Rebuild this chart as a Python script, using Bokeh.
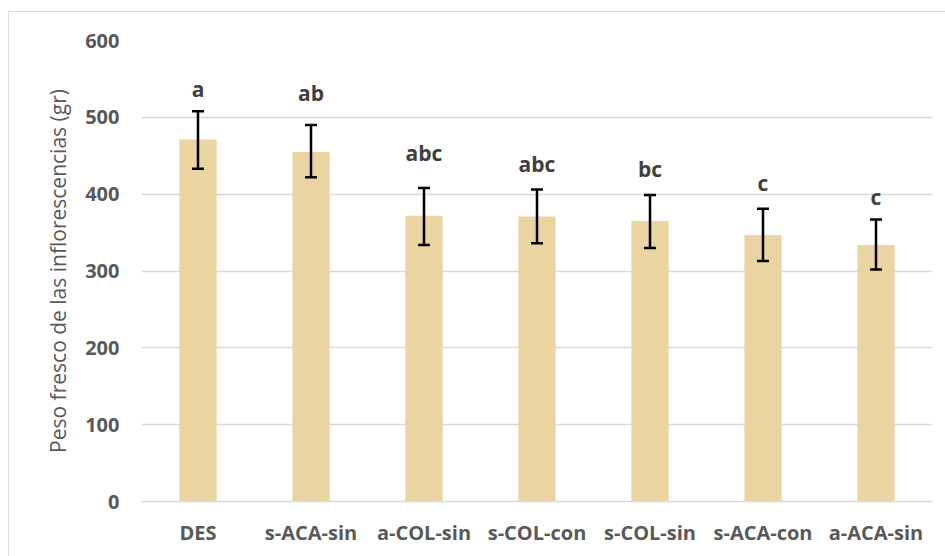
from bokeh.plotting import figure
from bokeh.models import ColumnDataSource, Range1d, FixedTicker
from bokeh.core.properties import value
from bokeh.embed import file_html
from bokeh.resources import INLINE

categories = ["DES", "s-ACA-sin", "a-COL-sin", "s-COL-con", "s-COL-sin", "s-ACA-con", "a-ACA-sin"]
means = [471, 455, 372, 371, 365, 347, 334]
upper = [508, 490, 408, 406, 399, 381, 367]
lower = [433, 422, 334, 336, 330, 313, 302]
letters = ["a", "ab", "abc", "abc", "bc", "c", "c"]
letter_y = [537, 532, 454, 439, 433, 414, 396]
y_ticks = [0, 100, 200, 300, 400, 500, 600]

src = ColumnDataSource(dict(cat=categories, mean=means, upper=upper, lower=lower,
                            letter=letters, ly=letter_y))

p = figure(x_range=categories, y_range=Range1d(0, 600), width=936, height=544,
           output_backend="svg", toolbar_location=None,
           min_border_left=132, min_border_right=13, min_border_top=28, min_border_bottom=55)
p.styles = {"margin-left": "9px", "margin-top": "12px",
            "outline": "1px solid #D9D9D9"}
p.x_range.range_padding = 0
p.outline_line_color = None
p.background_fill_color = "white"
p.border_fill_color = "white"

p.vbar(x="cat", top="mean", bottom=0, width=0.33, source=src,
       fill_color="#EAD4A2", line_color=None)

p.segment(x0="cat", y0="lower", x1="cat", y1="upper", source=src,
          line_color="black", line_width=2.5)
p.scatter(x="cat", y="upper", source=src, marker="dash", size=12,
          line_color="black", line_width=2.5)
p.scatter(x="cat", y="lower", source=src, marker="dash", size=12,
          line_color="black", line_width=2.5)

p.text(x="cat", y="ly", text="letter", source=src, text_align="center",
       text_baseline="alphabetic", text_font=value("Open Sans"), text_font_style="bold",
       text_font_size="21px", text_color="#404040")

p.xgrid.grid_line_color = None
p.ygrid.grid_line_color = "#D9D9D9"
p.ygrid.grid_line_width = 1.5
p.yaxis.ticker = FixedTicker(ticks=y_ticks)

for ax in (p.xaxis, p.yaxis):
    ax.major_tick_line_color = None
    ax.minor_tick_line_color = None
    ax.major_label_text_font = "Open Sans"
    ax.major_label_text_font_style = "bold"
    ax.major_label_text_font_size = "20px"
    ax.major_label_text_color = "#595959"

p.yaxis.axis_line_color = None
p.yaxis.major_label_standoff = 16
p.yaxis.axis_label = "Peso fresco de las inflorescencias (gr)"
p.yaxis.axis_label_text_font = "Open Sans"
p.yaxis.axis_label_text_font_style = "normal"
p.yaxis.axis_label_text_font_size = "21px"
p.yaxis.axis_label_text_color = "#595959"
p.yaxis.axis_label_standoff = 10

p.xaxis.axis_line_color = "#D9D9D9"
p.xaxis.axis_line_width = 1.5
p.xaxis.major_label_standoff = 11

open("out.html", "w").write(file_html(p, INLINE))
